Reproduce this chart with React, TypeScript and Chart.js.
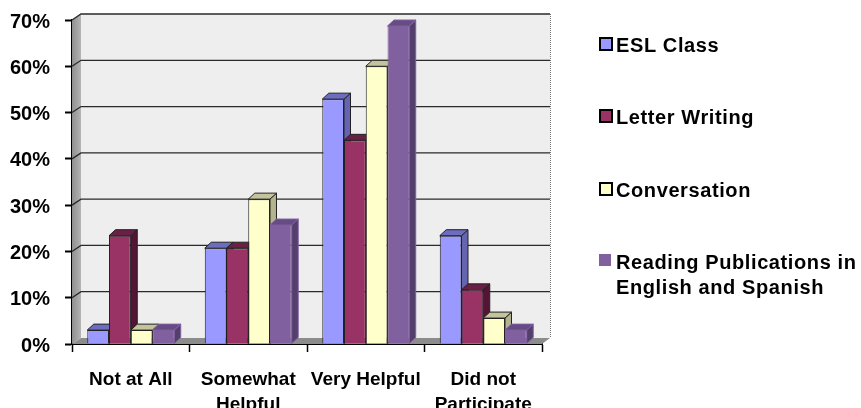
import React, { useEffect, useRef } from "react";
import { Chart, registerables } from "chart.js";

Chart.register(...registerables);

const categories = [["Not at All"], ["Somewhat", "Helpful"], ["Very Helpful"], ["Did not", "Participate"]];
const eslClass = [3, 20.7, 52.9, 23.4];
const letterWriting = [23.4, 20.7, 44, 11.7];
const conversation = [3, 31.3, 60, 5.6];
const readingPublications = [3, 25.7, 68.7, 3];
const legendNames = [["ESL Class"], ["Letter Writing"], ["Conversation"], ["Reading Publications in", "English and Spanish"]];
const yTicks = [0, 10, 20, 30, 40, 50, 60, 70];

const FONT = "'Liberation Sans', Arial, sans-serif";
const DX = 6.5;
const DY = 6;
const WALL_RIGHT = 550;

const seriesStyles = [
  { front: "#9999FF", side: "#6464B0", top: "#6C6CC0", line: "#222222" },
  { front: "#993366", side: "#541436", top: "#6A1F45", line: "#222222" },
  { front: "#FFFFCC", side: "#B3B38F", top: "#C4C49C", line: "#222222" },
  { front: "#80609F", side: "#533F6C", top: "#654C84", line: "#80609F" },
];

function poly(ctx: CanvasRenderingContext2D, pts: number[][], fill: string, stroke?: string) {
  ctx.beginPath();
  pts.forEach((p, i) => (i ? ctx.lineTo(p[0], p[1]) : ctx.moveTo(p[0], p[1])));
  ctx.closePath();
  ctx.fillStyle = fill;
  ctx.fill();
  if (stroke) {
    ctx.strokeStyle = stroke;
    ctx.lineWidth = 1;
    ctx.stroke();
  }
}

const wallPlugin = {
  id: "wall3d",
  beforeDatasetsDraw(chart: any) {
    const { ctx, chartArea, scales } = chart;
    const { left, right, bottom, top } = chartArea;
    const bx = left + 9;
    ctx.save();
    poly(ctx, [[bx, top - DY], [WALL_RIGHT, top - DY], [WALL_RIGHT, bottom - DY], [bx, bottom - DY]], "#EEEEEE");
    const g = ctx.createLinearGradient(left, 0, bx, 0);
    g.addColorStop(0, "#8F8F8F");
    g.addColorStop(1, "#B4B4B4");
    poly(ctx, [[left, top], [bx, top - DY], [bx, bottom - DY], [left, bottom]], g as any);
    poly(ctx, [[left, bottom], [bx, bottom - DY], [WALL_RIGHT, bottom - DY], [right, bottom]], "#8C8C8C");
    ctx.strokeStyle = "#777777";
    ctx.lineWidth = 1;
    ctx.setLineDash([1, 1]);
    ctx.beginPath();
    ctx.moveTo(WALL_RIGHT + 0.5, top - DY);
    ctx.lineTo(WALL_RIGHT + 0.5, bottom - DY);
    ctx.stroke();
    ctx.setLineDash([]);
    ctx.strokeStyle = "#2A2A2A";
    ctx.lineWidth = 1.3;
    yTicks.slice(1).forEach((v) => {
      const y = scales.y.getPixelForValue(v);
      ctx.beginPath();
      ctx.moveTo(left, y);
      ctx.lineTo(bx, y - DY);
      ctx.lineTo(WALL_RIGHT, y - DY);
      ctx.stroke();
    });
    chart.data.datasets.forEach((_: any, di: number) => {
      const st = seriesStyles[di];
      chart.getDatasetMeta(di).data.forEach((el: any) => {
        const { x, y, base, width } = el.getProps(["x", "y", "base", "width"], true);
        const l = x - width / 2;
        const r = x + width / 2;
        poly(ctx, [[r, y], [r + DX, y - DY], [r + DX, base - DY], [r, base]], st.side, st.line);
        poly(ctx, [[l, y], [l + DX, y - DY], [r + DX, y - DY], [r, y]], st.top, st.line);
      });
    });
    ctx.restore();
  },
  afterDraw(chart: any) {
    const { ctx } = chart;
    const rows = [46, 118, 191, 263];
    ctx.save();
    ctx.font = `bold 20px ${FONT}`;
    ctx.textBaseline = "middle";
    ctx.textAlign = "left";
    (ctx as any).letterSpacing = "0.6px";
    legendNames.forEach((lines, i) => {
      const st = seriesStyles[i];
      const cy = rows[i];
      ctx.fillStyle = st.front;
      if (i < 3) {
        ctx.fillRect(600, cy - 8, 12, 12);
        ctx.strokeStyle = "#000000";
        ctx.lineWidth = 2;
        ctx.strokeRect(600, cy - 8, 12, 12);
      } else {
        ctx.fillRect(599, cy - 9, 12, 12);
      }
      ctx.fillStyle = "#000000";
      lines.forEach((t, j) => ctx.fillText(t, 616, cy + j * 25.5));
    });
    ctx.restore();
  },
};

export default function App() {
  const ref = useRef<HTMLCanvasElement | null>(null);
  useEffect(() => {
    document.body.style.margin = "0";
    const chart = new Chart(ref.current as HTMLCanvasElement, {
      type: "bar",
      data: {
        labels: categories,
        datasets: [eslClass, letterWriting, conversation, readingPublications].map((d, i) => ({
          label: legendNames[i].join(" "),
          data: d,
          backgroundColor: seriesStyles[i].front,
          borderColor: seriesStyles[i].line,
          borderWidth: 1,
          categoryPercentage: 0.74,
          barPercentage: 1,
        })),
      },
      options: {
        responsive: false,
        animation: false,
        layout: { padding: { top: 20, right: 319, left: 0, bottom: 0 } },
        plugins: { legend: { display: false }, tooltip: { enabled: false } },
        scales: {
          x: {
            afterFit: (s: any) => { s.height = 64; },
            grid: { drawOnChartArea: false, drawTicks: true, tickLength: 8, tickColor: "#000000", tickWidth: 1.5 },
            border: { display: true, color: "#000000", width: 2, dash: [2, 2] },
            ticks: { color: "#000000", padding: 15, maxRotation: 0, autoSkip: false, font: { family: FONT, weight: "bold", size: 19, lineHeight: 1.32 } },
          },
          y: {
            min: 0,
            max: 70,
            afterFit: (s: any) => { s.width = 72; s.paddingTop = 0; s.paddingBottom = 0; },
            afterBuildTicks: (s: any) => { s.ticks = yTicks.map((value) => ({ value })); },
            grid: { drawOnChartArea: false, drawTicks: true, tickLength: 7, tickColor: "#000000", tickWidth: 2 },
            border: { display: true, color: "#000000", width: 2 },
            ticks: { color: "#000000", padding: 15, labelOffset: 2, font: { family: FONT, weight: "bold", size: 20 }, callback: (v: any) => `${v}%` },
          },
        },
      },
      plugins: [wallPlugin],
    } as any);
    return () => chart.destroy();
  }, []);
  return <canvas ref={ref} width={861} height={408} style={{ display: "block" }} />;
}
